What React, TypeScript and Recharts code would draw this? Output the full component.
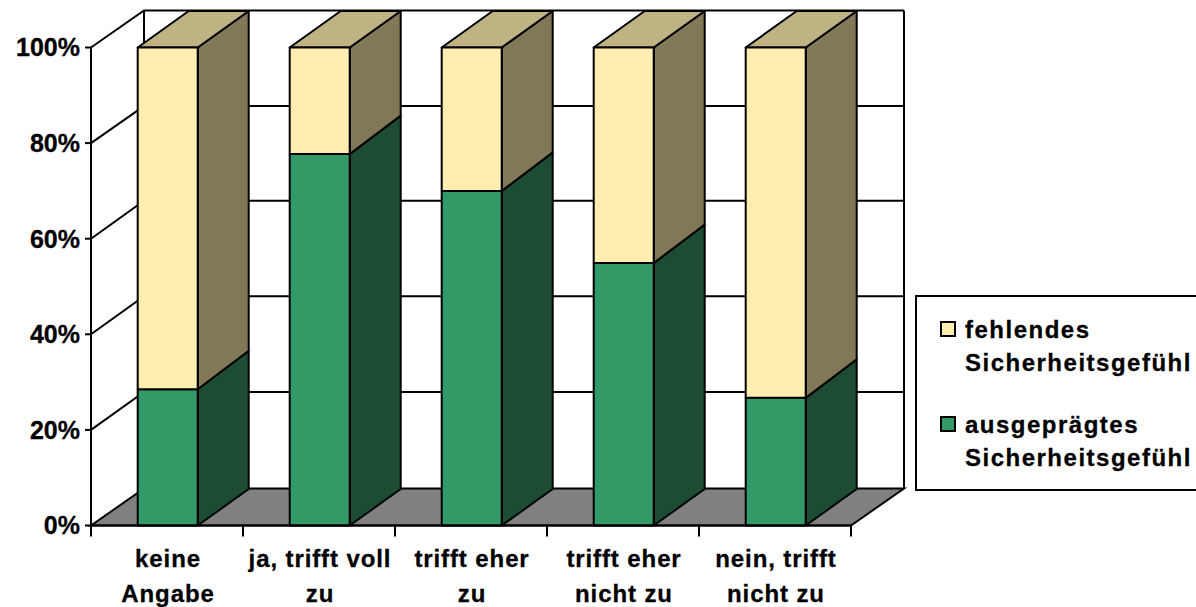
import { BarChart, Bar, XAxis, YAxis, CartesianGrid, Legend } from "recharts";

const categories = ["keine Angabe", "ja, trifft voll zu", "trifft eher zu", "trifft eher nicht zu", "nein, trifft nicht zu"];
const tickLines = [
  ["keine", "Angabe"],
  ["ja, trifft voll", "zu"],
  ["trifft eher", "zu"],
  ["trifft eher", "nicht zu"],
  ["nein, trifft", "nicht zu"],
];
const ausgepraegt = [28.5, 77.7, 70, 54.9, 26.7];
const fehlend = [71.5, 22.3, 30, 45.1, 73.3];
const yTicks = [0, 20, 40, 60, 80, 100];

const chartData = categories.map((name, i) => ({
  name,
  ausgepraegt: ausgepraegt[i],
  fehlend: fehlend[i],
}));

const DX = 53;
const DY = 37;
const GRID_DY = 38;
const BAR_DX = 51;
const BAR_DY = 36.5;
const SEAM_DY = 38.5;
const BAND = 152;
const font = "'Liberation Sans', Arial, sans-serif";

// top/bottom depth differ a little where the two stacks meet, as in the original render
function Box({ x, y, width, height, fill, side, top }: any) {
  const l = x + 0.7;
  const r = l + width;
  const b = y + height;
  const topDy = top ? BAR_DY : SEAM_DY;
  const bottomDy = top ? SEAM_DY : BAR_DY;
  return (
    <g stroke="#000" strokeWidth={2} strokeLinejoin="round">
      <path d={`M${r},${y}L${r + BAR_DX},${y - topDy}L${r + BAR_DX},${b - bottomDy}L${r},${b}Z`} fill={side} />
      {top && <path d={`M${l},${y}L${l + BAR_DX},${y - BAR_DY}L${r + BAR_DX},${y - BAR_DY}L${r},${y}Z`} fill={top} />}
      <rect x={l} y={y} width={width} height={height} fill={fill} />
    </g>
  );
}

function GridLine({ x1, y1, x2, index }: any) {
  const isFloor = y1 > 500;
  const isTop = y1 < 60;
  const dy = isTop || y1 < 150 ? DY : GRID_DY;
  return (
    <g key={index} fill="none" stroke="#000" strokeWidth={2}>
      {isFloor && (
        <path d={`M${x1},${y1}L${x1 + DX},${y1 - DY}L${x2 + DX},${y1 - DY}L${x2},${y1}Z`} fill="#808080" />
      )}
      {!isFloor && <path d={`M${x1},${y1}L${x1 + DX},${y1 - dy}L${x2 + DX},${y1 - dy}`} />}
      {isTop && (
        <path d={`M${x1 + DX},${y1 - DY}V${y1 - DY + 478}M${x2 + DX},${y1 - DY}V${y1 - DY + 478}`} />
      )}
    </g>
  );
}

function CategoryTick({ x, index }: any) {
  const axisY = 525.5;
  return (
    <g>
      <line x1={x - BAND / 2} x2={x - BAND / 2} y1={axisY} y2={axisY + 11} stroke="#000" strokeWidth={2} />
      {index === categories.length - 1 && (
        <line x1={x + BAND / 2} x2={x + BAND / 2} y1={axisY} y2={axisY + 11} stroke="#000" strokeWidth={2} />
      )}
      {tickLines[index].map((line, i) => (
        <text
          key={line}
          x={x + 1}
          y={axisY + 41 + i * 35}
          textAnchor="middle"
          fontFamily={font}
          fontWeight="bold"
          fontSize={24}
          letterSpacing={0.9}
          fill="#000"
          stroke="#000"
          strokeWidth={0.3}
        >
          {line}
        </text>
      ))}
    </g>
  );
}

function LegendBox({ payload }: any) {
  const items = [...(payload || [])].reverse();
  return (
    <div
      style={{
        boxSizing: "border-box",
        width: 300,
        height: 196,
        border: "2px solid #000",
        background: "#fff",
        position: "relative",
        fontFamily: font,
        fontWeight: "bold",
        fontSize: 24,
        letterSpacing: 1.5,
        lineHeight: "33px",
        color: "#000",
        WebkitTextStroke: "0.3px #000",
      }}
    >
      {items.map((item: any, i: number) => {
        const words = String(item.value).split(" ");
        return (
          <div key={item.value} style={{ position: "absolute", left: 23, top: 16 + i * 95 }}>
            <span
              style={{
                position: "absolute",
                left: 0,
                top: 8,
                width: 16,
                height: 16,
                boxSizing: "border-box",
                border: "2px solid #000",
                background: item.color,
              }}
            />
            <div style={{ marginLeft: 25, whiteSpace: "nowrap" }}>
              {words[0]}
              <br />
              {words[1]}
            </div>
          </div>
        );
      })}
    </div>
  );
}

export default function App() {
  return (
    <div style={{ position: "absolute", left: 0, top: 0, width: 1196, height: 607, overflow: "hidden", background: "#fff" }}>
      <BarChart
        width={1196}
        height={607}
        data={chartData}
        margin={{ top: 47.5, right: 345, bottom: 0, left: 0 }}
        barCategoryGap={0}
      >
        <CartesianGrid horizontal={GridLine} vertical={false} />
        <XAxis
          dataKey="name"
          height={81.5}
          interval={0}
          tickLine={false}
          tick={CategoryTick}
          axisLine={{ stroke: "#000", strokeWidth: 2 }}
        />
        <YAxis
          width={91}
          domain={[0, 100]}
          ticks={yTicks}
          tickFormatter={(v) => `${v}%`}
          tickMargin={5}
          tick={{ fill: "#000", stroke: "#000", strokeWidth: 0.3, fontFamily: font, fontWeight: "bold", fontSize: 25 }}
          tickLine={{ stroke: "#000", strokeWidth: 2 }}
          axisLine={{ stroke: "#000", strokeWidth: 2 }}
        />
        <Legend
          layout="vertical"
          align="center"
          verticalAlign="middle"
          content={LegendBox}
          wrapperStyle={{ left: 915, top: 295, width: 300, height: 196 }}
        />
        <Bar
          dataKey="ausgepraegt"
          name="ausgeprägtes Sicherheitsgefühl"
          stackId="a"
          barSize={60}
          fill="#339966"
          isAnimationActive={false}
          shape={(p: any) => <Box {...p} fill="#339966" side="#1C4D33" />}
        />
        <Bar
          dataKey="fehlend"
          name="fehlendes Sicherheitsgefühl"
          stackId="a"
          barSize={60}
          fill="#FFEEAF"
          isAnimationActive={false}
          shape={(p: any) => <Box {...p} fill="#FFEEAF" side="#807857" top="#BFB384" />}
        />
      </BarChart>
    </div>
  );
}
